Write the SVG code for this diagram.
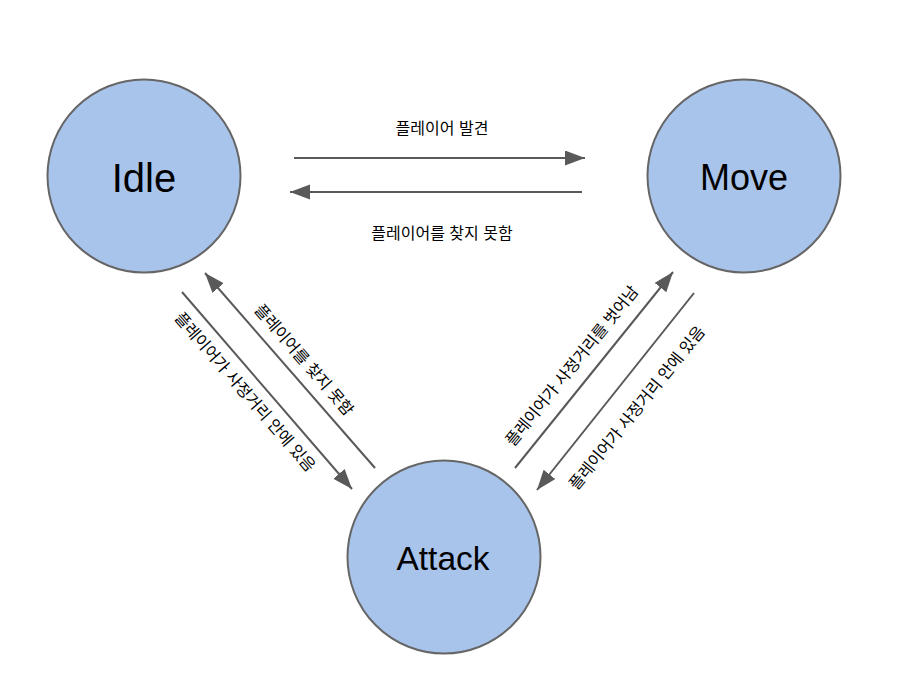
<svg xmlns="http://www.w3.org/2000/svg" width="912" height="690" viewBox="0 0 912 690">
<style>
.node{fill:#A9C4EB;stroke:#666666;stroke-width:2}
.nt{font-family:"Liberation Sans","Noto Sans CJK KR",sans-serif;fill:#000;text-anchor:middle}
.edge{stroke:#595959;stroke-width:2;fill:none;marker-end:url(#ah)}
.lbl{font-family:"Liberation Sans","Noto Sans CJK KR",sans-serif;font-size:16px;fill:#000;text-anchor:middle;dominant-baseline:central}
</style>
<defs>
<marker id="ah" markerUnits="userSpaceOnUse" markerWidth="22" markerHeight="16" refX="20" refY="7.5" orient="auto">
<path d="M0,0 L20,7.5 L0,15 z" fill="#595959"/>
</marker>
</defs>
<rect width="912" height="690" fill="#ffffff"/>
<g id="idle"><circle class="node" cx="144" cy="176" r="96.5"/><text class="nt" x="144" y="192" font-size="40">Idle</text></g>
<g id="move"><circle class="node" cx="744" cy="176" r="96.5"/><text class="nt" x="744" y="190" font-size="36">Move</text></g>
<g id="attack"><circle class="node" cx="444" cy="557" r="96.5"/><text class="nt" x="443" y="570" font-size="33.5">Attack</text></g>
<g id="connectors">
<line class="edge" x1="294" y1="158" x2="585" y2="158"/>
<line class="edge" x1="582" y1="192" x2="290" y2="192"/>
<line class="edge" x1="182" y1="292" x2="352" y2="489"/>
<line class="edge" x1="375" y1="468" x2="205" y2="273"/>
<line class="edge" x1="515" y1="468" x2="673" y2="272"/>
<line class="edge" x1="694" y1="293" x2="537" y2="490"/>
</g>
<g id="labels">
<text class="lbl" x="442" y="128">플레이어 발견</text>
<text class="lbl" x="442" y="233">플레이어를 찾지 못함</text>
<text class="lbl" transform="translate(245,392) rotate(49)">플레이어가 사정거리 안에 있음</text>
<text class="lbl" transform="translate(304,360) rotate(49)">플레이어를 찾지 못함</text>
<text class="lbl" transform="translate(572,366) rotate(-51)">플레이어가 사정거리를 벗어남</text>
<text class="lbl" transform="translate(637,408) rotate(-51)">플레이어가 사정거리 안에 있음</text>
</g>
</svg>
